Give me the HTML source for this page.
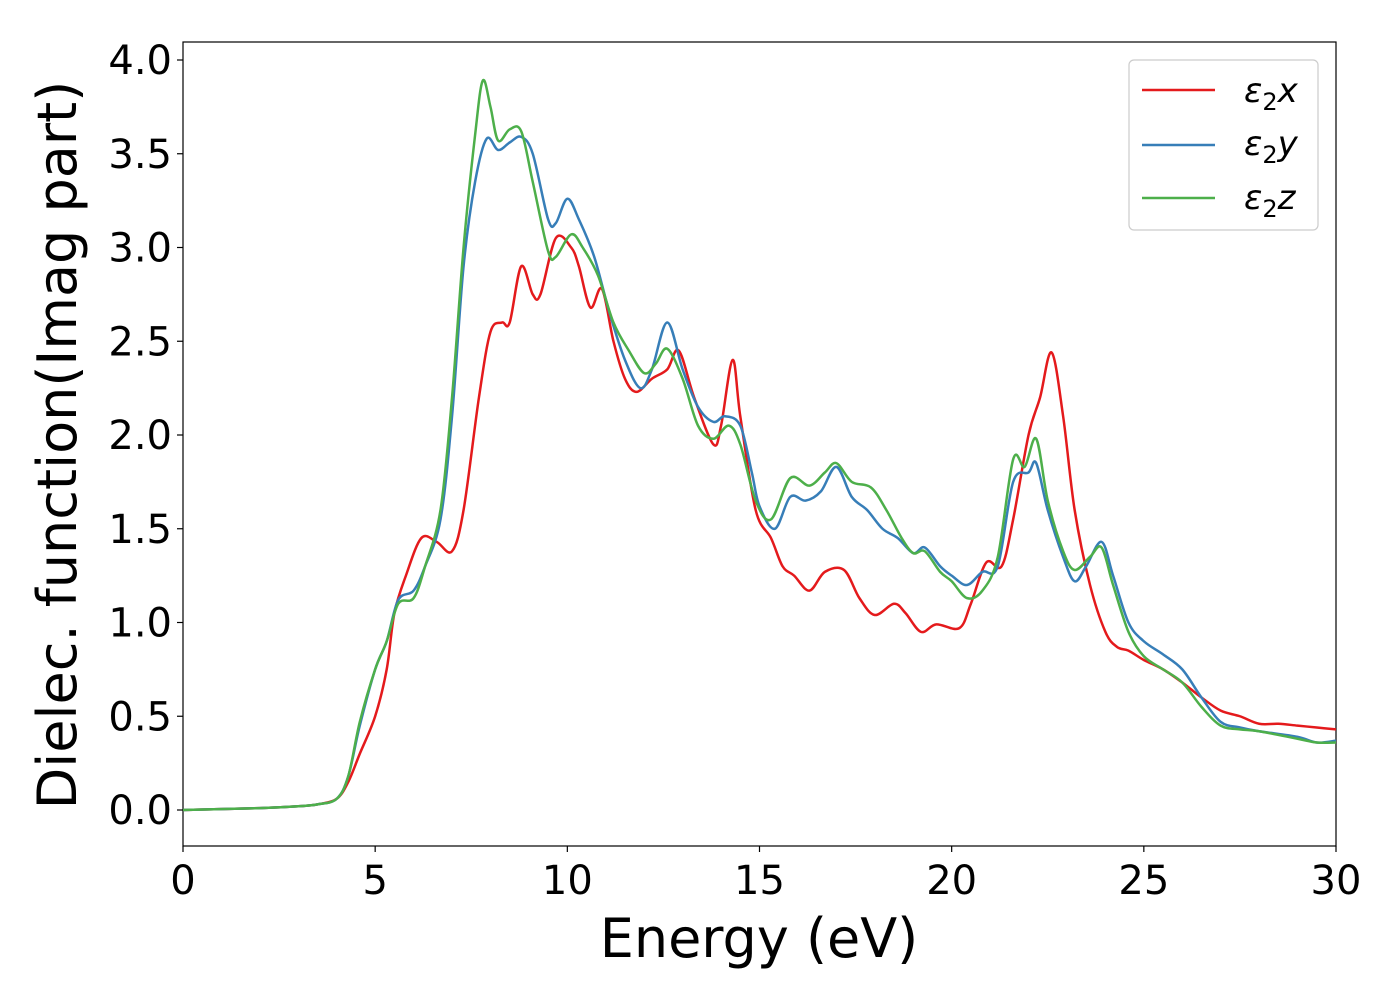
<!DOCTYPE html>
<html><head><meta charset="utf-8"><style>
html,body{margin:0;padding:0;background:#fff;}
svg{display:block;font-family:"DejaVu Sans","Liberation Sans",sans-serif;}
</style></head><body>
<svg id="chart" width="1400" height="1000">
<rect x="183" y="42" width="1153" height="804" fill="#fff" stroke="#000" stroke-width="1.2"/>
<g id="ticks"></g>
<g id="series" clip-path="url(#clip)"></g>
<defs><clipPath id="clip"><rect x="183" y="42" width="1153" height="804"/></clipPath></defs>
<text x="759" y="957" font-size="54" text-anchor="middle">Energy (eV)</text>
<text transform="translate(76,445) rotate(-90)" font-size="54" text-anchor="middle">Dielec. function(Imag part)</text>
<g>
<rect x="1129" y="60" width="189" height="170" rx="5" fill="#fff" stroke="#ccc" stroke-width="1.2"/>
<g><line x1="1142" y1="90" x2="1215" y2="90" stroke="#e41a1c" stroke-width="2.5"/><text x="1244" y="102" font-size="34"><tspan font-style="italic">ε</tspan><tspan font-size="24" dy="8">2</tspan><tspan font-style="italic" dy="-8">x</tspan></text></g>
<g><line x1="1142" y1="145" x2="1215" y2="145" stroke="#377eb8" stroke-width="2.5"/><text x="1244" y="155" font-size="34"><tspan font-style="italic">ε</tspan><tspan font-size="24" dy="8">2</tspan><tspan font-style="italic" dy="-8">y</tspan></text></g>
<g><line x1="1142" y1="198" x2="1215" y2="198" stroke="#4daf4a" stroke-width="2.5"/><text x="1244" y="209" font-size="34"><tspan font-style="italic">ε</tspan><tspan font-size="24" dy="8">2</tspan><tspan font-style="italic" dy="-8">z</tspan></text></g>
</g>
</svg>
<script>
const xTicks=[0,5,10,15,20,25,30];
const yTicks=[0.0,0.5,1.0,1.5,2.0,2.5,3.0,3.5,4.0];
const ex=[0,2,3,3.5,4,4.3,4.6,5,5.3,5.5,5.8,6.2,6.6,7.0,7.3,7.7,8.0,8.3,8.5,8.8,9.1,9.3,9.7,10.1,10.3,10.6,10.9,11.2,11.5,11.8,12.2,12.6,12.9,13.3,13.8,14.0,14.3,14.5,14.9,15.3,15.6,15.9,16.3,16.7,17.2,17.6,18.0,18.5,18.8,19.2,19.6,20.2,20.5,20.9,21.3,21.6,22.0,22.3,22.6,22.9,23.2,23.6,24.0,24.3,24.6,25,25.5,26,26.5,27,27.5,28,28.5,29,29.5,30];
const vx=[0,0.01,0.02,0.03,0.06,0.15,0.3,0.5,0.75,1.05,1.25,1.45,1.43,1.38,1.6,2.2,2.55,2.6,2.6,2.9,2.75,2.75,3.05,3.0,2.9,2.68,2.78,2.5,2.3,2.23,2.3,2.35,2.45,2.2,1.95,2.05,2.4,2.1,1.6,1.45,1.3,1.25,1.17,1.27,1.28,1.13,1.04,1.1,1.05,0.95,0.99,0.97,1.1,1.32,1.3,1.55,2.0,2.2,2.44,2.1,1.6,1.2,0.95,0.87,0.85,0.8,0.75,0.68,0.6,0.53,0.5,0.46,0.46,0.45,0.44,0.43];
const ey=[0,2,3,3.5,4,4.3,4.6,5.0,5.3,5.6,6.0,6.3,6.7,7.0,7.3,7.6,7.9,8.2,8.5,8.8,9.1,9.5,9.7,10.0,10.3,10.7,11.1,11.5,11.9,12.2,12.6,13.0,13.4,13.8,14.1,14.5,14.8,15.0,15.4,15.8,16.2,16.6,17.0,17.4,17.8,18.2,18.6,19.0,19.3,19.7,20.0,20.4,20.8,21.2,21.6,22.0,22.2,22.5,22.9,23.2,23.5,23.9,24.2,24.6,25,25.5,26,26.5,27,27.5,28,29,29.5,30];
const vy=[0,0.01,0.02,0.03,0.06,0.18,0.45,0.75,0.9,1.12,1.17,1.3,1.55,2.1,2.9,3.35,3.58,3.52,3.56,3.59,3.5,3.15,3.13,3.26,3.15,2.95,2.65,2.4,2.25,2.35,2.6,2.35,2.15,2.07,2.1,2.05,1.8,1.62,1.5,1.67,1.65,1.7,1.83,1.67,1.6,1.5,1.45,1.37,1.4,1.3,1.25,1.2,1.27,1.3,1.75,1.8,1.85,1.6,1.35,1.22,1.3,1.43,1.25,1.0,0.9,0.83,0.75,0.6,0.47,0.44,0.42,0.39,0.36,0.37];
const ez=[0,2,3,3.5,4,4.3,4.6,5,5.3,5.6,6.0,6.3,6.7,7.0,7.3,7.6,7.8,8.0,8.2,8.5,8.8,9.1,9.5,9.7,10.1,10.4,10.8,11.2,11.6,12.0,12.3,12.6,13.0,13.4,13.8,14.2,14.5,14.9,15.3,15.8,16.3,16.7,17.0,17.4,17.9,18.3,18.7,19.0,19.3,19.7,20.0,20.4,20.8,21.2,21.6,21.9,22.2,22.5,22.9,23.2,23.6,23.9,24.2,24.6,25,25.5,26,26.5,27,27.5,28,29,29.5,30];
const vz=[0,0.01,0.02,0.03,0.06,0.18,0.47,0.75,0.9,1.1,1.13,1.3,1.6,2.2,3.0,3.6,3.89,3.75,3.57,3.63,3.62,3.35,2.98,2.95,3.07,3.0,2.85,2.6,2.45,2.33,2.38,2.46,2.3,2.05,1.98,2.05,1.95,1.65,1.55,1.77,1.73,1.8,1.85,1.75,1.72,1.6,1.45,1.37,1.38,1.27,1.22,1.13,1.17,1.35,1.87,1.83,1.98,1.65,1.38,1.28,1.35,1.4,1.2,0.95,0.82,0.75,0.68,0.55,0.45,0.43,0.42,0.38,0.36,0.36];
const X=v=>183+v*(1153/30), Y=v=>810-v*187.5;
const NS="http://www.w3.org/2000/svg";
const tg=document.getElementById('ticks');
function mk(t,a){const e=document.createElementNS(NS,t);for(const k in a)e.setAttribute(k,a[k]);return e;}
xTicks.forEach(t=>{
 const l=mk('line',{x1:X(t),x2:X(t),y1:846,y2:852,stroke:'#000','stroke-width':1.2});
 
 
 tg.appendChild(l);
 const s=mk('text',{x:X(t),y:894,'font-size':40,'text-anchor':'middle'});s.textContent=t;
 
 
 tg.appendChild(s);
});
yTicks.forEach(t=>{
 const l=mk('line',{x1:177,x2:183,y1:Y(t),y2:Y(t),stroke:'#000','stroke-width':1.2});
 
 
 tg.appendChild(l);
 const s=mk('text',{x:172,y:Y(t)+14,'font-size':40,'text-anchor':'end'});s.textContent=t.toFixed(1);
 
 
 tg.appendChild(s);
});
function path(xs,vs){
 const p=xs.map((x,i)=>[X(x),Y(vs[i])]);
 let d='M'+p[0][0]+','+p[0][1];
 for(let i=0;i<p.length-1;i++){
  const p0=p[Math.max(0,i-1)],p1=p[i],p2=p[i+1],p3=p[Math.min(p.length-1,i+2)];
  const c1=[p1[0]+(p2[0]-p0[0])/6,p1[1]+(p2[1]-p0[1])/6];
  const c2=[p2[0]-(p3[0]-p1[0])/6,p2[1]-(p3[1]-p1[1])/6];
  d+=`C${c1[0]},${c1[1]} ${c2[0]},${c2[1]} ${p2[0]},${p2[1]}`;
 }
 return d;
}
const sg=document.getElementById('series');
[[ex,vx,'#e41a1c','series-eps2-x'],[ey,vy,'#377eb8','series-eps2-y'],[ez,vz,'#4daf4a','series-eps2-z']].forEach(s=>{
 const e=mk('path',{d:path(s[0],s[1]),fill:'none',stroke:s[2],'stroke-width':2.5});
 
 
 sg.appendChild(e);
});
</script>
</body></html>
